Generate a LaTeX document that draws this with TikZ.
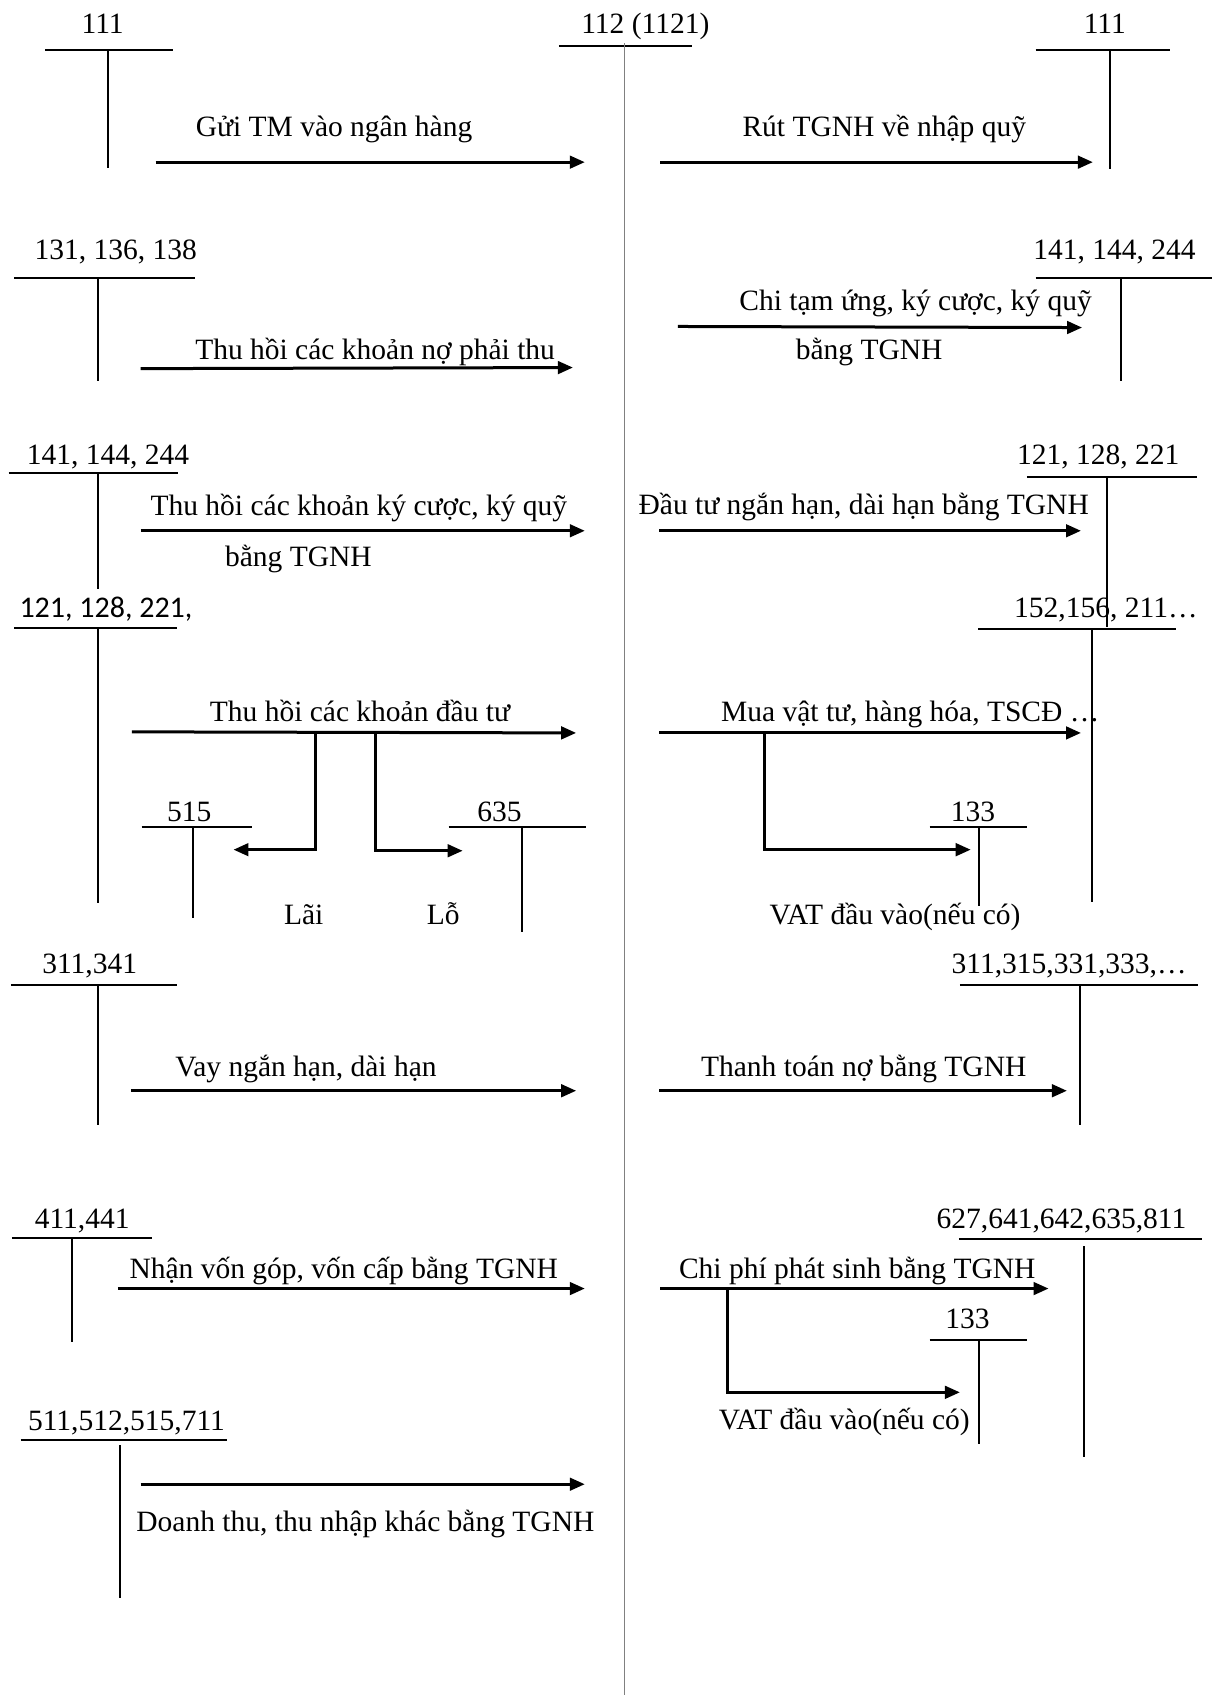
\documentclass[tikz,border=0pt]{standalone}
\usepackage{fontspec}
\setmainfont{Liberation Serif}
\newfontfamily\calibrifont{Carlito}
\usetikzlibrary{arrows.meta}

\begin{document}
\begin{tikzpicture}[x=0.4324pt, y=-0.4324pt, font=\fontsize{11.8}{14}\selectfont,
  >={Triangle[length=6pt,width=5pt]},
  acct/.style={line width=0.8pt},
  flow/.style={->, line width=1.2pt},
  lbl/.style={inner sep=0pt, anchor=base}]
\useasboundingbox (0,0) rectangle (1122,1568);

% central account 112
\node[lbl] (acc112) at (597,31) {112 (1121)};
\draw[acct] (517,43) -- (640,43);
\draw[gray, line width=0.5pt] (578,40) -- (578,1568);

% row 1
\node[lbl] (acc111a) at (95,31) {111};
\draw[acct] (42,46) -- (160,46) (100,46) -- (100,155);
\node[lbl] (acc111b) at (1022,31) {111};
\draw[acct] (958,46) -- (1082,46) (1027,46) -- (1027,156);
\coordinate (guiS) at (144,150);
\coordinate (guiE) at (541,150);
\draw[flow] (guiS) -- (guiE);
\node[lbl] (gui) at (309,126) {Gửi TM vào ngân hàng};
\coordinate (rutS) at (611,150);
\coordinate (rutE) at (1011,150);
\draw[flow] (rutS) -- (rutE);
\node[lbl] (rut) at (818,126) {Rút TGNH về nhập quỹ};

% row 2
\node[lbl] (acc131) at (107,240) {131, 136, 138};
\draw[acct] (13,257) -- (180,257) (91,257) -- (91,352);
\node[lbl] (acc141b) at (1031,240) {141, 144, 244};
\draw[acct] (958,257) -- (1121,257) (1037,257) -- (1037,352);
\coordinate (thuS) at (130,341);
\coordinate (thuE) at (530,340);
\draw[flow] (thuS) -- (thuE);
\node[lbl] (thu) at (347,333) {Thu hồi các khoản nợ phải thu};
\coordinate (tamS) at (627,302);
\coordinate (tamE) at (1001,303);
\draw[flow] (tamS) -- (tamE);
\node[lbl] (tam) at (847,287) {Chi tạm ứng, ký cược, ký quỹ};
\node[lbl] (tamb) at (804,333) {bằng TGNH};

% row 3
\node[lbl] (acc141a) at (100,430) {141, 144, 244};
\draw[acct] (8,438) -- (165,438) (91,438) -- (91,545);
\node[lbl] (acc121b) at (1016,430) {121, 128, 221};
\draw[acct] (950,441) -- (1107,441) (1024,441) -- (1024,580);
\coordinate (kyS) at (130,491);
\coordinate (kyE) at (541,491);
\draw[flow] (kyS) -- (kyE);
\node[lbl] (ky) at (332,477) {Thu hồi các khoản ký cược, ký quỹ};
\node[lbl] (kyb) at (276,524) {bằng TGNH};
\coordinate (dtS) at (610,491);
\coordinate (dtE) at (1000,491);
\draw[flow] (dtS) -- (dtE);
\node[lbl] (dt) at (799,476) {Đầu tư ngắn hạn, dài hạn bằng TGNH};

% row 4
\node[lbl, font=\calibrifont\fontsize{12}{14}\selectfont] (acc121a) at (98,571) {121, 128, 221,};
\draw[acct] (13,581) -- (164,581) (91,581) -- (91,835);
\node[lbl] (acc152) at (1023,571) {152,156, 211…};
\draw[acct] (905,582) -- (1088,582) (1010,582) -- (1010,834);
\coordinate (hoiS) at (122,677);
\coordinate (hoiE) at (533,678);
\draw[flow] (hoiS) -- (hoiE);
\node[lbl] (hoi) at (333,667) {Thu hồi các khoản đầu tư};
\node[lbl] (acc515) at (175,760) {515};
\draw[acct] (131,765) -- (233,765) (179,765) -- (179,849);
\node[lbl] (acc635) at (462,760) {635};
\draw[acct] (415,765) -- (542,765) (483,765) -- (483,862);
\coordinate (laiS) at (292,677);
\coordinate (laiE) at (216,786);
\draw[flow] (laiS) |- (laiE);
\coordinate (loS) at (347,678);
\coordinate (loE) at (428,787);
\draw[flow] (loS) |- (loE);
\node[lbl] (lai) at (281,855) {Lãi};
\node[lbl] (lo) at (410,855) {Lỗ};
\coordinate (muaS) at (610,678);
\coordinate (muaE) at (1000,678);
\draw[flow] (muaS) -- (muaE);
\node[lbl] (mua) at (842,667) {Mua vật tư, hàng hóa, TSCĐ …};
\node[lbl] (acc133a) at (900,760) {133};
\draw[acct] (860,765) -- (950,765) (906,765) -- (906,838);
\coordinate (vatS) at (707,678);
\coordinate (vatE) at (898,786);
\draw[flow] (vatS) |- (vatE);
\node[lbl] (vat) at (828,855) {VAT đầu vào(nếu có)};

% row 5
\node[lbl] (acc311) at (83,901) {311,341};
\draw[acct] (10,911) -- (164,911) (91,911) -- (91,1041);
\node[lbl] (acc331) at (989,901) {311,315,331,333,…};
\draw[acct] (888,911) -- (1108,911) (999,911) -- (999,1041);
\coordinate (vayS) at (121,1009);
\coordinate (vayE) at (533,1009);
\draw[flow] (vayS) -- (vayE);
\node[lbl] (vay) at (283,996) {Vay ngắn hạn, dài hạn};
\coordinate (ttS) at (610,1009);
\coordinate (ttE) at (987,1009);
\draw[flow] (ttS) -- (ttE);
\node[lbl] (tt) at (799,996) {Thanh toán nợ bằng TGNH};

% row 6
\node[lbl] (acc411) at (76,1136) {411,441};
\draw[acct] (11,1145) -- (141,1145) (67,1145) -- (67,1241);
\node[lbl] (acc627) at (982,1136) {627,641,642,635,811};
\draw[acct] (887,1146) -- (1112,1146) (1003,1153) -- (1003,1348);
\coordinate (vonS) at (109,1192);
\coordinate (vonE) at (541,1192);
\draw[flow] (vonS) -- (vonE);
\node[lbl] (von) at (318,1183) {Nhận vốn góp, vốn cấp bằng TGNH};
\coordinate (cpS) at (611,1192);
\coordinate (cpE) at (970,1192);
\draw[flow] (cpS) -- (cpE);
\node[lbl] (cp) at (793,1183) {Chi phí phát sinh bằng TGNH};
\node[lbl] (acc133b) at (895,1229) {133};
\draw[acct] (860,1240) -- (950,1240) (906,1240) -- (906,1336);
\coordinate (vat2S) at (673,1192);
\coordinate (vat2E) at (888,1288);
\draw[flow] (vat2S) |- (vat2E);
\node[lbl] (vat2) at (781,1322) {VAT đầu vào(nếu có)};

% row 7
\node[lbl] (acc511) at (117,1323) {511,512,515,711};
\draw[acct] (19,1332) -- (210,1332) (111,1337) -- (111,1478);
\coordinate (dtnS) at (130,1373);
\coordinate (dtnE) at (541,1373);
\draw[flow] (dtnS) -- (dtnE);
\node[lbl] (dtn) at (338,1417) {Doanh thu, thu nhập khác bằng TGNH};
\end{tikzpicture}
\end{document}
